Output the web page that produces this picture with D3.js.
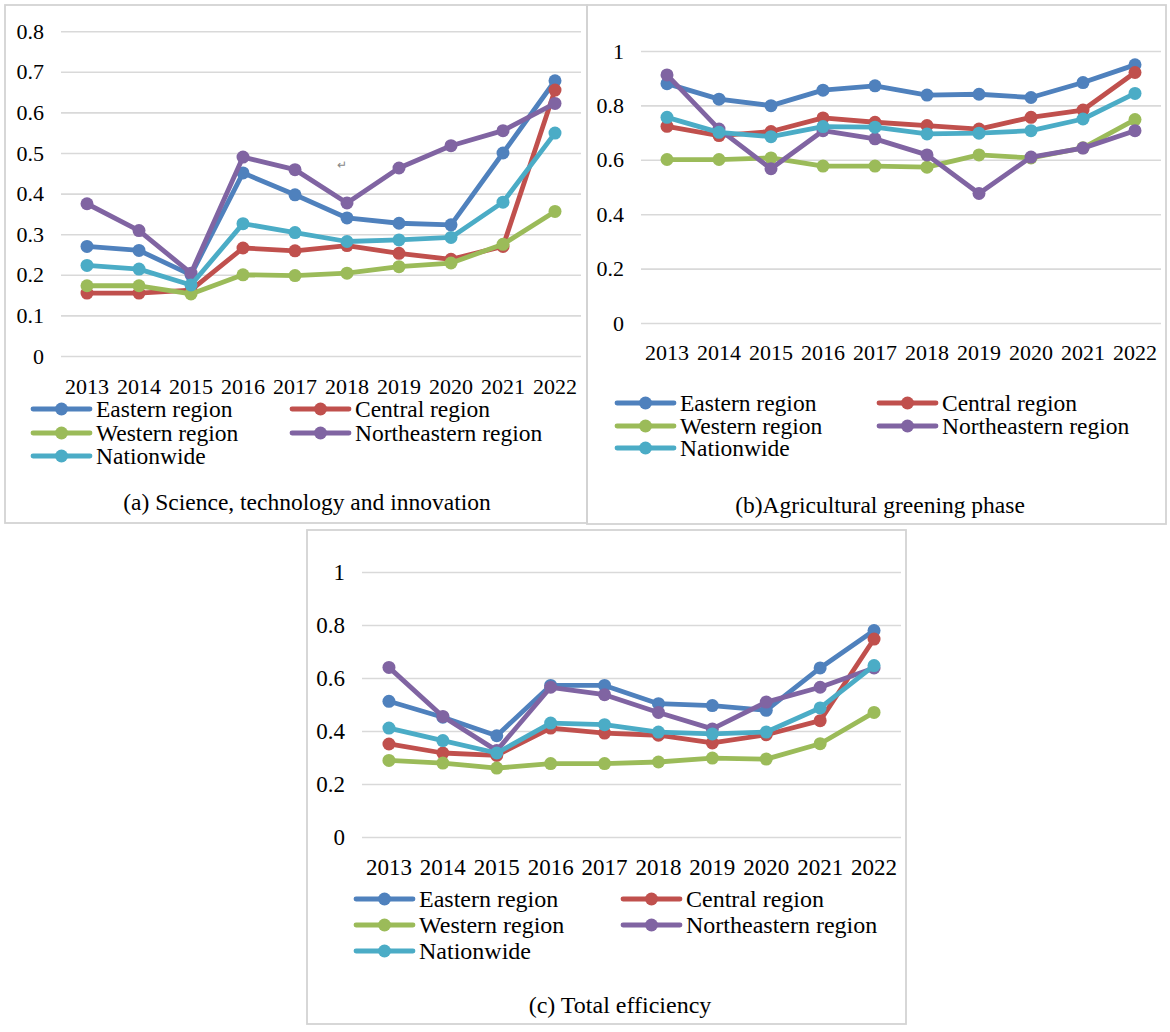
<!DOCTYPE html>
<html>
<head>
<meta charset="utf-8">
<script src="https://cdn.jsdelivr.net/npm/d3@7"></script>
<style>
  body { margin: 0; background: #fff; }
  svg text { font-family: "Liberation Serif", "Times New Roman", serif; fill: #000; }
</style>
</head>
<body>
<svg id="chart" width="1170" height="1032"></svg>
<script>
// categories
const years = ["2013", "2014", "2015", "2016", "2017", "2018", "2019", "2020", "2021", "2022"];
const regions = ["Eastern region", "Central region", "Western region", "Northeastern region", "Nationwide"];
const regionColors = ["#4F81BD", "#C0504D", "#9BBB59", "#8064A2", "#4BACC6"];

// (a) Science, technology and innovation, one row per region
const techValues = [
  [0.270, 0.260, 0.200, 0.451, 0.397, 0.340, 0.327, 0.323, 0.500, 0.678],
  [0.155, 0.155, 0.162, 0.266, 0.259, 0.272, 0.253, 0.238, 0.270, 0.655],
  [0.173, 0.173, 0.153, 0.200, 0.198, 0.204, 0.220, 0.229, 0.275, 0.356],
  [0.375, 0.309, 0.204, 0.490, 0.459, 0.377, 0.463, 0.518, 0.555, 0.622],
  [0.223, 0.214, 0.175, 0.326, 0.304, 0.282, 0.286, 0.292, 0.379, 0.549]
];
// (b) Agricultural greening phase
const greenValues = [
  [0.880, 0.823, 0.799, 0.856, 0.872, 0.838, 0.841, 0.829, 0.884, 0.949],
  [0.723, 0.689, 0.704, 0.754, 0.738, 0.726, 0.713, 0.756, 0.783, 0.921],
  [0.601, 0.601, 0.607, 0.577, 0.577, 0.573, 0.618, 0.607, 0.644, 0.748],
  [0.912, 0.713, 0.567, 0.707, 0.677, 0.618, 0.476, 0.610, 0.643, 0.707],
  [0.756, 0.701, 0.685, 0.722, 0.720, 0.695, 0.698, 0.707, 0.750, 0.844]
];
// (c) Total efficiency
const totalValues = [
  [0.512, 0.452, 0.382, 0.572, 0.572, 0.503, 0.496, 0.478, 0.638, 0.779],
  [0.351, 0.317, 0.308, 0.411, 0.392, 0.384, 0.355, 0.386, 0.439, 0.747],
  [0.289, 0.279, 0.260, 0.277, 0.277, 0.283, 0.298, 0.294, 0.352, 0.470],
  [0.640, 0.455, 0.326, 0.565, 0.537, 0.470, 0.408, 0.509, 0.565, 0.638],
  [0.411, 0.364, 0.317, 0.430, 0.424, 0.396, 0.389, 0.396, 0.487, 0.647]
];

// tick labels
const techTicks = [0, 0.1, 0.2, 0.3, 0.4, 0.5, 0.6, 0.7, 0.8];
const greenTicks = [0, 0.2, 0.4, 0.6, 0.8, 1];
const totalTicks = [0, 0.2, 0.4, 0.6, 0.8, 1];

const captions = ["(a) Science, technology and innovation", "(b)Agricultural greening phase", "(c) Total efficiency"];

// layout of the three chart boxes (pixels)
const panels = [
  { values: techValues, ticks: techTicks, caption: captions[0], font: 22, legendFont: 23.5,
    box: [5, 5, 587, 523], x0: 61, x1: 581, yBottom: 356, yTop: 31.2, yMax: 0.8,
    yearY: 387, legendRows: [409, 433, 456], legendCols: [33, 292], captionX: 307, captionY: 502 },
  { values: greenValues, ticks: greenTicks, caption: captions[1], font: 22, legendFont: 23.5,
    box: [587, 5, 1166, 524], x0: 641, x1: 1161, yBottom: 323, yTop: 51, yMax: 1,
    yearY: 353, legendRows: [403, 426, 448], legendCols: [617, 879], captionX: 880, captionY: 505 },
  { values: totalValues, ticks: totalTicks, caption: captions[2], font: 23, legendFont: 24,
    box: [307, 530, 906, 1024], x0: 362, x1: 901, yBottom: 837, yTop: 572, yMax: 1,
    yearY: 867, legendRows: [899, 925, 951], legendCols: [356, 623], captionX: 620, captionY: 1005 }
];

const svg = d3.select("#chart");

panels.forEach((p) => {
  const g = svg.append("g");

  // chart box
  g.append("rect")
    .attr("x", p.box[0]).attr("y", p.box[1])
    .attr("width", p.box[2] - p.box[0]).attr("height", p.box[3] - p.box[1])
    .attr("fill", "none").attr("stroke", "#d3d3d3").attr("stroke-width", 1.8);

  const x = d3.scaleBand().domain(years).range([p.x0, p.x1]).padding(0);
  const y = d3.scaleLinear().domain([0, p.yMax]).range([p.yBottom, p.yTop]);

  // y axis with gridlines
  const yAxis = g.append("g")
    .attr("transform", `translate(${p.x0},0)`)
    .call(d3.axisLeft(y).tickValues(p.ticks).tickFormat(d3.format("~g"))
      .tickSize(-(p.x1 - p.x0)).tickPadding(17));
  yAxis.select(".domain").remove();
  yAxis.selectAll(".tick line").attr("stroke", "#d9d9d9").attr("stroke-width", 1.6);
  yAxis.selectAll(".tick text")
    .attr("font-family", "Liberation Serif").attr("font-size", p.font).attr("fill", "#000");

  // year labels
  const xAxis = g.append("g")
    .attr("transform", `translate(0,${p.yBottom})`)
    .call(d3.axisBottom(x).tickSize(0).tickPadding(p.yearY - p.yBottom - 0.38 * p.font));
  xAxis.select(".domain").remove();
  xAxis.selectAll(".tick text")
    .attr("font-family", "Liberation Serif").attr("font-size", p.font).attr("fill", "#000");

  const line = d3.line()
    .x((d, i) => x(years[i]) + x.bandwidth() / 2)
    .y(d => y(d));

  p.values.forEach((vals, si) => {
    const s = g.append("g");
    s.append("path")
      .datum(vals)
      .attr("d", line)
      .attr("fill", "none")
      .attr("stroke", regionColors[si])
      .attr("stroke-width", 4.8)
      .attr("stroke-linejoin", "round");
    s.selectAll("circle")
      .data(vals)
      .enter().append("circle")
      .attr("cx", (d, i) => x(years[i]) + x.bandwidth() / 2)
      .attr("cy", d => y(d))
      .attr("r", 6.5)
      .attr("fill", regionColors[si]);
  });

  // legend
  regions.forEach((name, ri) => {
    const col = ri % 2, row = Math.floor(ri / 2);
    const lx = p.legendCols[col], ly = p.legendRows[row];
    const lg = g.append("g");
    lg.append("line")
      .attr("x1", lx).attr("x2", lx + 57).attr("y1", ly).attr("y2", ly)
      .attr("stroke", regionColors[ri]).attr("stroke-width", 4.8).attr("stroke-linecap", "round");
    lg.append("circle")
      .attr("cx", lx + 28.5).attr("cy", ly).attr("r", 6.5).attr("fill", regionColors[ri]);
    lg.append("text")
      .attr("x", lx + 63).attr("y", ly).attr("dy", "0.35em")
      .attr("font-size", p.legendFont)
      .text(name);
  });

  // caption
  g.append("text")
    .attr("x", p.captionX).attr("y", p.captionY).attr("dy", "0.35em")
    .attr("text-anchor", "middle").attr("font-size", p.legendFont)
    .text(p.caption);
});

// stray paragraph mark left in panel (a)
svg.append("text")
  .attr("x", 342).attr("y", 169)
  .attr("text-anchor", "middle")
  .attr("font-size", 12)
  .style("fill", "#888")
  .text("\u21B5");
</script>
</body>
</html>
